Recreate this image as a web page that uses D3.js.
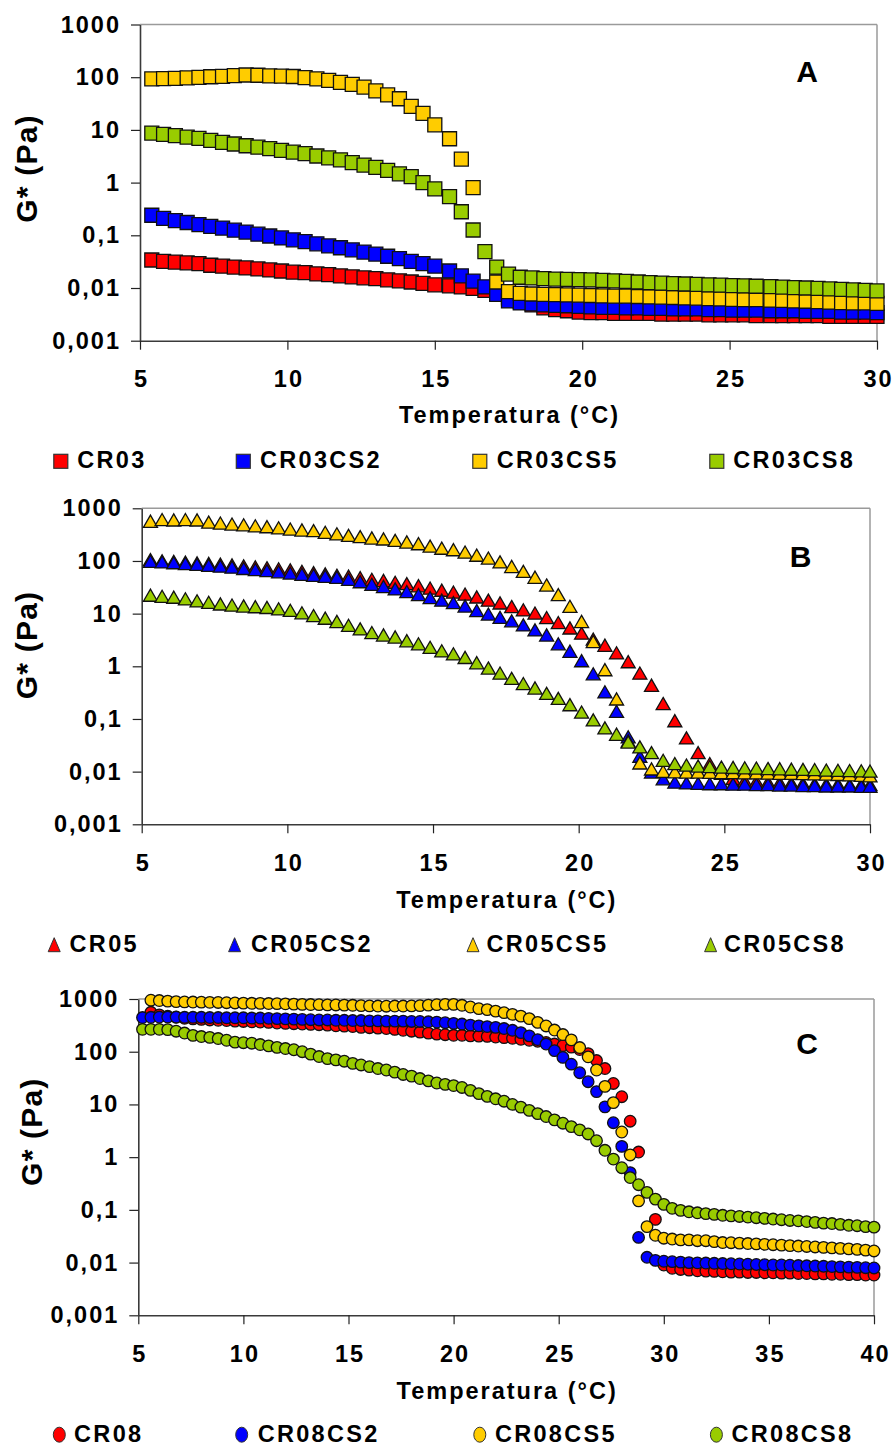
<!DOCTYPE html>
<html><head><meta charset="utf-8">
<script src="https://cdn.jsdelivr.net/npm/d3@7"></script>
<style>
html,body{margin:0;padding:0;background:#fff;}
svg text{font-family:"Liberation Sans", Arial, Helvetica, sans-serif;font-weight:bold;fill:#000;}
</style></head><body>
<svg id="chart" width="894" height="1447"></svg>
<script>
// ---------- tick labels ----------
const yTickValues = [0.001, 0.01, 0.1, 1, 10, 100, 1000];
const yTickLabels = ["0,001", "0,01", "0,1", "1", "10", "100", "1000"];
const xTicksAB = [5, 10, 15, 20, 25, 30];
const xTicksC = [5, 10, 15, 20, 25, 30, 35, 40];
const seriesColors = ["#FF0000", "#0000FF", "#FFCC00", "#99CC00"];

// ---------- panel A ----------
const namesA = ["CR03", "CR03CS2", "CR03CS5", "CR03CS8"];
const tempA = [5.4,5.8,6.2,6.6,7.0,7.4,7.8,8.2,8.6,9.0,
  9.4,9.8,10.2,10.6,11.0,11.4,11.8,12.2,12.6,13.0,
  13.4,13.8,14.2,14.6,15.0,15.5,15.9,16.3,16.7,17.1,
  17.5,17.9,18.3,18.7,19.1,19.5,19.9,20.3,20.7,21.1,
  21.5,21.9,22.3,22.7,23.1,23.5,23.9,24.3,24.7,25.1,
  25.5,25.9,26.4,26.8,27.2,27.6,28.0,28.4,28.8,29.2,
  29.6,30.0];
const gCR03 = [0.034,0.032,0.031,0.030,0.029,0.027,0.026,0.025,0.024,0.023,
  0.022,0.021,0.020,0.0195,0.0185,0.018,0.017,0.0163,0.0156,0.015,
  0.0143,0.0137,0.013,0.0122,0.0115,0.011,0.0105,0.0098,0.009,0.0078,
  0.0065,0.0055,0.0048,0.0042,0.0039,0.0037,0.0035,0.0034,0.0034,0.0033,
  0.0033,0.0033,0.0033,0.0032,0.0032,0.0032,0.0032,0.0031,0.0031,0.0031,
  0.0031,0.003,0.003,0.003,0.003,0.003,0.003,0.0029,0.0029,0.0029,
  0.0029,0.0029];
const gCR03CS2 = [0.24,0.21,0.19,0.175,0.16,0.148,0.137,0.125,0.115,0.105,
  0.097,0.089,0.082,0.076,0.069,0.063,0.058,0.053,0.048,0.044,
  0.040,0.036,0.032,0.029,0.026,0.021,0.017,0.0135,0.0105,0.0076,
  0.0057,0.0052,0.005,0.0048,0.0047,0.0046,0.0045,0.0044,0.0043,0.0043,
  0.0042,0.0042,0.0041,0.0041,0.004,0.004,0.004,0.0039,0.0039,0.0038,
  0.0038,0.0038,0.0037,0.0037,0.0037,0.0036,0.0036,0.0036,0.0035,0.0035,
  0.0035,0.0034];
const gCR03CS5 = [93,94,95,97,99,102,104,107,110,109,
  106,105,103,98,93,87,80,73,65,55,
  46,39,28,20.5,12.5,6.8,2.8,0.8,null,0.013,
  0.0085,0.0079,0.0077,0.0076,0.0075,0.0074,0.0073,0.0072,0.0071,0.007,
  0.007,0.0069,0.0068,0.0067,0.0066,0.0065,0.0064,0.0063,0.0062,0.0061,
  0.006,0.006,0.0059,0.0058,0.0057,0.0056,0.0055,0.0054,0.0053,0.0052,
  0.0052,0.0051];
const gCR03CS8 = [8.7,8.2,7.8,7.3,6.9,6.3,5.8,5.4,5.0,4.7,
  4.4,4.1,3.8,3.55,3.2,2.95,2.7,2.4,2.15,1.95,
  1.7,1.47,1.3,1.0,0.76,0.54,0.28,0.126,0.049,0.025,
  0.0184,0.016,0.0155,0.015,0.0148,0.0146,0.0144,0.0142,0.014,0.0137,
  0.0134,0.013,0.0127,0.0124,0.0121,0.0119,0.0117,0.0115,0.0113,0.0111,
  0.011,0.0108,0.0106,0.0104,0.0102,0.01,0.0098,0.0096,0.0094,0.0092,
  0.009,0.0088];

// ---------- panel B ----------
const namesB = ["CR05", "CR05CS2", "CR05CS5", "CR05CS8"];
const tempB = [5.3,5.7,6.1,6.5,6.9,7.3,7.7,8.1,8.5,8.9,
  9.3,9.7,10.1,10.5,10.9,11.3,11.7,12.1,12.5,12.9,
  13.3,13.7,14.1,14.5,14.9,15.3,15.7,16.1,16.5,16.9,
  17.3,17.7,18.1,18.5,18.9,19.3,19.7,20.1,20.5,20.9,
  21.3,21.7,22.1,22.5,22.9,23.3,23.7,24.1,24.5,24.9,
  25.3,25.7,26.1,26.5,26.9,27.3,27.7,28.1,28.5,28.9,
  29.3,29.7,30.0];
const gCR05 = [97,92,90,87,84,82,80,77,74,71,
  68,65,62,58,55,52,49,47,44,41,
  39,36,34,31,28,25.5,23.5,21.5,19,16.5,
  14.6,12.5,10.8,9.4,7.7,6.2,4.9,3.9,3.0,2.3,
  1.65,1.12,0.68,0.4,0.18,0.085,0.04,0.021,0.013,0.0085,
  0.0068,0.0062,0.006,0.0058,0.0057,0.0056,0.0055,0.0054,0.0053,0.0053,
  0.0052,0.0052,0.0052];
const gCR05CS2 = [90,88,85,82,79,76,73,70,66,63,
  60,57,54,51,49,47,45,41,37,33,
  30,27,24,21,18.5,16.5,14.8,12.8,10.5,9.0,
  7.8,6.7,5.6,4.5,3.6,2.45,1.77,1.17,0.66,0.3,
  0.128,0.042,0.018,0.009,0.0067,0.0058,0.0056,0.0055,0.0054,0.0054,
  0.0053,0.0053,0.0052,0.0052,0.0051,0.0051,0.005,0.005,0.0049,0.0049,
  0.0049,0.0048,0.0048];
const gCR05CS5 = [520,560,550,560,550,500,480,460,445,425,
  410,390,370,355,345,320,300,280,265,250,
  240,225,210,195,175,160,150,135,118,104,
  88,72,58,45,32,21,12.6,6.5,2.7,0.79,
  0.22,0.035,0.0134,0.0103,0.0093,0.0091,0.009,0.009,0.0089,0.0088,
  0.0088,0.0087,0.0087,0.0086,0.0085,0.0085,0.0084,0.0083,0.0082,0.0081,
  0.008,0.0078,0.0076];
const gCR05CS8 = [20.5,19.5,18.8,17.5,16,15,14,13.3,12.8,12.4,
  12,11.3,10.6,9.5,8.4,7.5,6.5,5.5,4.7,4.0,
  3.6,3.3,2.8,2.45,2.1,1.8,1.58,1.35,1.07,0.85,
  0.68,0.54,0.43,0.355,0.28,0.225,0.171,0.124,0.088,0.062,
  0.047,0.0335,0.027,0.021,0.015,0.013,0.0122,0.0117,0.0114,0.0112,
  0.011,0.0108,0.0107,0.0105,0.0104,0.0102,0.0101,0.01,0.0098,0.0097,
  0.0096,0.0095,0.0094];

// ---------- panel C ----------
const namesC = ["CR08", "CR08CS2", "CR08CS5", "CR08CS8"];
const tempC = [5.2,5.6,6.0,6.4,6.8,7.2,7.6,8.0,8.4,8.8,
  9.2,9.6,10.0,10.4,10.8,11.2,11.6,12.0,12.4,12.8,
  13.2,13.6,14.0,14.4,14.8,15.2,15.6,16.0,16.4,16.8,
  17.2,17.6,18.0,18.4,18.8,19.2,19.6,20.0,20.4,20.8,
  21.2,21.6,22.0,22.4,22.8,23.2,23.6,24.0,24.4,24.8,
  25.2,25.6,26.0,26.4,26.8,27.2,27.6,28.0,28.4,28.8,
  29.2,29.6,30.0,30.4,30.8,31.2,31.6,32.0,32.4,32.8,
  33.2,33.6,34.0,34.4,34.8,35.2,35.6,36.0,36.4,36.8,
  37.2,37.6,38.0,38.4,38.8,39.2,39.6,40.0];
const gCR08 = [null,560,500,470,450,430,420,410,400,395,
  390,380,375,370,365,360,350,345,340,335,
  330,325,320,310,305,300,290,285,280,275,
  265,255,245,235,225,215,210,205,205,200,
  198,195,190,185,180,172,165,158,150,140,
  130,122,110,92,68,48,25,14,4.8,1.25,
  null,0.066,0.009,0.0078,0.0074,0.0072,0.007,0.0069,0.0068,0.0067,
  0.0066,0.0066,0.0065,0.0065,0.0064,0.0064,0.0063,0.0063,0.0062,0.0062,
  0.0061,0.0061,0.006,0.006,0.0059,0.0059,0.0058,0.0058];
const gCR08CS2 = [445,450,455,455,455,450,450,450,445,445,
  440,440,440,435,435,430,425,420,415,410,
  405,400,400,395,395,390,390,385,385,380,
  380,380,375,375,370,365,355,345,335,320,
  310,300,290,275,255,230,200,170,140,105,
  78,58,40,27,17.5,9,4.5,1.6,0.51,0.03,
  0.0126,0.011,0.0106,0.0104,0.0102,0.01,0.0099,0.0098,0.0097,0.0096,
  0.0095,0.0094,0.0093,0.0092,0.0091,0.009,0.009,0.0089,0.0088,0.0087,
  0.0086,0.0085,0.0084,0.0083,0.0082,0.0081,0.008,0.0079];
const gCR08CS5 = [null,950,935,910,890,880,875,870,865,860,
  850,840,835,830,825,820,815,810,800,790,
  785,780,775,770,765,760,750,740,735,730,
  735,735,740,750,765,780,790,790,760,705,
  655,628,590,550,510,473,425,360,308,258,
  212,168,120,80,45,22,10.8,3.0,1.1,0.148,
  0.048,0.033,0.029,0.028,0.027,0.027,0.026,0.026,0.025,0.024,
  0.0238,0.0234,0.023,0.0226,0.0222,0.0218,0.0214,0.021,0.0206,0.0202,
  0.0198,0.0194,0.019,0.0186,0.0182,0.0178,0.0172,0.0166];
const gCR08CS8 = [266,266,266,262,245,226,204,194,187,178,
  165,152,148,145,137,129,121,115,109,100,
  90,81,74,70,66,60,56,52,48,45,
  41,37,34.5,31,28,25.5,24,22.8,21,18.5,
  16,14.2,12.8,11.5,10,8.9,7.7,6.7,5.9,5.1,
  4.4,3.8,3.3,2.75,2.05,1.35,0.92,0.63,0.41,0.3,
  0.215,0.16,0.127,0.107,0.098,0.092,0.088,0.085,0.082,0.079,
  0.077,0.075,0.073,0.071,0.069,0.067,0.065,0.063,0.062,0.06,
  0.058,0.056,0.055,0.053,0.051,0.05,0.048,0.047];

// ---------- drawing ----------
const svg = d3.select("#chart");

function drawPanel(cfg) {
  const g = svg.append("g");
  const x = d3.scaleLinear().domain(cfg.xDomain).range([cfg.left, cfg.right]);
  const y = d3.scaleLog().domain([0.001, 1000]).range([cfg.bottom, cfg.top]);

  g.append("line").attr("x1", cfg.left).attr("x2", cfg.right).attr("y1", cfg.top).attr("y2", cfg.top)
    .attr("stroke", "#9a9a9a").attr("stroke-width", 1.5);
  g.append("line").attr("x1", cfg.right).attr("x2", cfg.right).attr("y1", cfg.top).attr("y2", cfg.bottom)
    .attr("stroke", "#9a9a9a").attr("stroke-width", 1.5);

  const xa = g.append("g").attr("transform", `translate(0,${cfg.bottom})`)
    .call(d3.axisBottom(x).tickValues(cfg.xTicks).tickSize(9).tickSizeOuter(0).tickPadding(21).tickFormat(d => String(d)));
  const ya = g.append("g").attr("transform", `translate(${cfg.left},0)`)
    .call(d3.axisLeft(y).tickValues(yTickValues).tickSize(9).tickSizeOuter(0).tickPadding(12)
      .tickFormat(d => yTickLabels[yTickValues.indexOf(d)]));
  [xa, ya].forEach(a => {
    a.select(".domain").attr("stroke", "#3a3a3a").attr("stroke-width", 1.6);
    a.selectAll(".tick line").attr("stroke", "#222").attr("stroke-width", 1.2);
    a.selectAll(".tick text").attr("font-size", 23.5).style("letter-spacing", "2px")
      .attr("font-family", null).attr("fill", "#000");
  });
  xa.selectAll(".tick text").attr("dx", 1);
  ya.selectAll(".tick text").attr("dx", 2);

  const sym = d3.symbol().type(cfg.symbol).size(cfg.symSize);
  cfg.series.forEach((vals, si) => {
    const pts = cfg.temps.map((t, i) => ({ t: t, v: vals[i] })).filter(d => d.v != null);
    g.append("g").selectAll("path").data(pts).join("path")
      .attr("d", sym)
      .attr("transform", d => `translate(${x(d.t)},${y(d.v)})`)
      .attr("fill", seriesColors[si]).attr("stroke", "#111").attr("stroke-width", 1.3);
  });

  g.append("text").attr("x", cfg.letterX).attr("y", cfg.letterY).attr("text-anchor", "middle")
    .attr("font-size", 30).text(cfg.letter);

  g.append("text").attr("transform", `translate(${cfg.yLabelX},${cfg.yLabelY}) rotate(-90)`)
    .attr("text-anchor", "middle").attr("font-size", 30).style("letter-spacing", "1.2px").text("G* (Pa)");

  g.append("text").attr("x", (cfg.left + cfg.right) / 2 + 1).attr("y", cfg.bottom + cfg.xTitleOff)
    .attr("text-anchor", "middle").attr("font-size", 23.5).style("letter-spacing", "2px").text("Temperatura (°C)");

  const ly = cfg.bottom + cfg.legendOff;
  cfg.names.forEach((nm, si) => {
    const mx = cfg.legendMarkX[si];
    if (cfg.legendShape === "square") {
      g.append("rect").attr("x", mx - 7).attr("y", ly - 14).attr("width", 14).attr("height", 14)
        .attr("fill", seriesColors[si]).attr("stroke", "#333").attr("stroke-width", 1.2);
    } else if (cfg.legendShape === "triangle") {
      g.append("path").attr("d", `M${mx},${ly - 14}L${mx + 6},${ly}L${mx - 6},${ly}Z`)
        .attr("fill", seriesColors[si]).attr("stroke", "#333").attr("stroke-width", 1);
    } else {
      g.append("ellipse").attr("cx", mx).attr("cy", ly - 7).attr("rx", 6).attr("ry", 7.5)
        .attr("fill", seriesColors[si]).attr("stroke", "#333").attr("stroke-width", 1);
    }
    g.append("text").attr("x", cfg.legendTextX[si]).attr("y", ly).attr("font-size", 23.5)
      .style("letter-spacing", "2.3px").text(nm);
  });
}

drawPanel({
  left: 140, right: 877, top: 24.5, bottom: 340.7,
  xDomain: [5, 30], xTicks: xTicksAB,
  temps: tempA, series: [gCR03, gCR03CS2, gCR03CS5, gCR03CS8], names: namesA,
  symbol: d3.symbolSquare, symSize: 196,
  letter: "A", letterX: 807, letterY: 82,
  yLabelX: 37, yLabelY: 168.5,
  xTitleOff: 82, legendOff: 127.6,
  legendShape: "square",
  legendMarkX: [60.8, 243.3, 479.8, 716.8],
  legendTextX: [77.3, 260, 496.7, 733.3]
});
drawPanel({
  left: 141.7, right: 870, top: 508.3, bottom: 824.3,
  xDomain: [5, 30], xTicks: xTicksAB,
  temps: tempB, series: [gCR05, gCR05CS2, gCR05CS5, gCR05CS8], names: namesB,
  symbol: d3.symbolTriangle, symSize: 85,
  letter: "B", letterX: 800.7, letterY: 567,
  yLabelX: 37, yLabelY: 645,
  xTitleOff: 84, legendOff: 127.4,
  legendShape: "triangle",
  legendMarkX: [54.2, 234.6, 473, 710.6],
  legendTextX: [69.6, 250.9, 486.5, 724]
});
drawPanel({
  left: 138.3, right: 874, top: 999, bottom: 1315.3,
  xDomain: [5, 40], xTicks: xTicksC,
  temps: tempC, series: [gCR08, gCR08CS2, gCR08CS5, gCR08CS8], names: namesC,
  symbol: d3.symbolCircle, symSize: 105,
  letter: "C", letterX: 807, letterY: 1054,
  yLabelX: 42, yLabelY: 1131.7,
  xTitleOff: 84, legendOff: 126.4,
  legendShape: "circle",
  legendMarkX: [59.3, 241.7, 479.8, 716.4],
  legendTextX: [74.1, 257.7, 494.9, 731.5]
});
</script>
</body></html>
